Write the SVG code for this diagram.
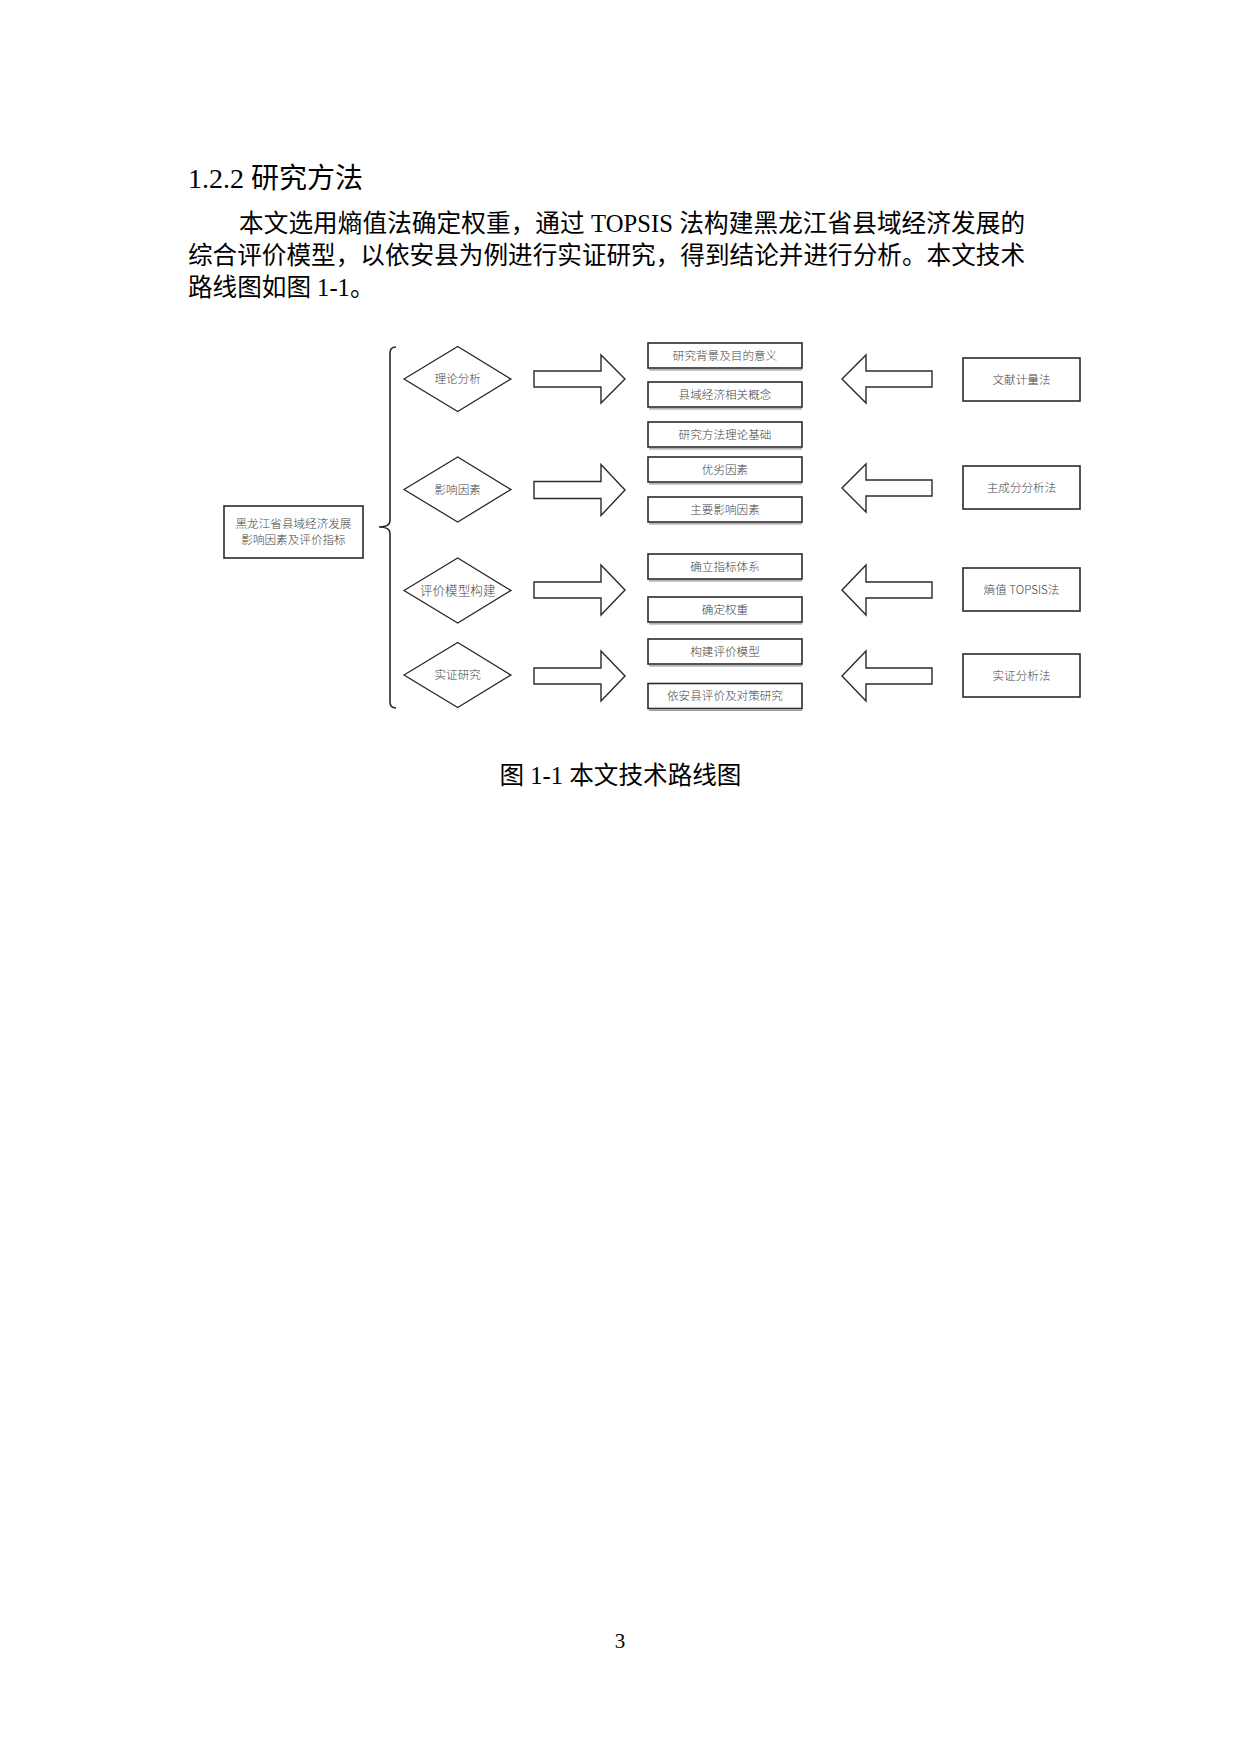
<svg xmlns="http://www.w3.org/2000/svg" width="1240" height="1754" viewBox="0 0 1240 1754">
<style>
.body{font-family:"Liberation Serif","Noto Sans CJK SC",serif;fill:#000;}
.h{font-size:28px;}
.p{font-size:24.6px;}
.d{font-family:"Noto Sans CJK SC","Noto Sans",sans-serif;font-size:11.6px;font-weight:300;fill:#444;text-anchor:middle;}
.box{fill:#fff;stroke:#2a2a2a;stroke-width:1.6;}
.sh{stroke:#9a9a9a;stroke-width:1.2;fill:none;}
.dia{fill:#fff;stroke:#2a2a2a;stroke-width:1.3;}
.arr{fill:#fff;stroke:#2a2a2a;stroke-width:1.4;stroke-linejoin:miter;}
.br{fill:none;stroke:#2a2a2a;stroke-width:1.6;}
</style>
<rect width="1240" height="1754" fill="#fff"/>
<text class="body h" x="188" y="188">1.2.2 研究方法</text>
<text class="body p" x="239" y="232" textLength="786" lengthAdjust="spacing">本文选用熵值法确定权重，通过 TOPSIS 法构建黑龙江省县域经济发展的</text>
<text class="body p" x="188" y="264" textLength="837" lengthAdjust="spacing">综合评价模型，以依安县为例进行实证研究，得到结论并进行分析。本文技术</text>
<text class="body p" x="188" y="296">路线图如图 1-1。</text>

<g id="connectors">
<path class="br" d="M396,347 Q390,347 390,353 L390,521 Q390,527 379,527 Q390,527 390,533 L390,702 Q390,708 396,708"/>
<polygon class="arr" points="534,371 601,371 601,355 625,379 601,403 601,387 534,387"/>
<polygon class="arr" points="534,481.5 601,481.5 601,464.5 625,490 601,515.5 601,498.5 534,498.5"/>
<polygon class="arr" points="534,582 601,582 601,565 625,590 601,615 601,598 534,598"/>
<polygon class="arr" points="534,668 601,668 601,651 625,676 601,701 601,684 534,684"/>
<polygon class="arr" points="932,371 866,371 866,355 842,379 866,403 866,387 932,387"/>
<polygon class="arr" points="932,480 866,480 866,464 842,488 866,512 866,496 932,496"/>
<polygon class="arr" points="932,582 866,582 866,565 842,590 866,615 866,598 932,598"/>
<polygon class="arr" points="932,668 866,668 866,651 842,676 866,701 866,684 932,684"/>
</g>

<g id="root">
<rect class="box" x="224" y="506" width="139" height="52"/>
<text class="d" x="293.5" y="527.5">黑龙江省县域经济发展</text>
<text class="d" x="293.5" y="543.5">影响因素及评价指标</text>
</g>

<g id="dia1"><polygon class="dia" points="404,379 457.7,346.5 511,379 457.7,411.5"/><text class="d" x="457.7" y="383">理论分析</text></g>
<g id="dia2"><polygon class="dia" points="404,489.5 457.7,457 511,489.5 457.7,522"/><text class="d" x="457.7" y="493.5">影响因素</text></g>
<g id="dia3"><polygon class="dia" points="404,590.5 457.7,558 511,590.5 457.7,623"/><text class="d" x="457.7" y="594.5" style="font-size:12.6px">评价模型构建</text></g>
<g id="dia4"><polygon class="dia" points="404,675 457.7,642.5 511,675 457.7,707.5"/><text class="d" x="457.7" y="679">实证研究</text></g>

<g id="m1"><line class="sh" x1="649" y1="369.8" x2="802" y2="369.8"/><rect class="box" x="648" y="343" width="154" height="25"/><text class="d" x="725" y="359.5">研究背景及目的意义</text></g>
<g id="m2"><line class="sh" x1="649" y1="408.8" x2="802" y2="408.8"/><rect class="box" x="648" y="382" width="154" height="25"/><text class="d" x="725" y="398.5">县域经济相关概念</text></g>
<g id="m3"><line class="sh" x1="649" y1="448.8" x2="802" y2="448.8"/><rect class="box" x="648" y="422" width="154" height="25"/><text class="d" x="725" y="438.5">研究方法理论基础</text></g>
<g id="m4"><line class="sh" x1="649" y1="483.8" x2="802" y2="483.8"/><rect class="box" x="648" y="457" width="154" height="25"/><text class="d" x="725" y="473.5">优劣因素</text></g>
<g id="m5"><line class="sh" x1="649" y1="523.8" x2="802" y2="523.8"/><rect class="box" x="648" y="497" width="154" height="25"/><text class="d" x="725" y="513.5">主要影响因素</text></g>
<g id="m6"><line class="sh" x1="649" y1="580.8" x2="802" y2="580.8"/><rect class="box" x="648" y="554" width="154" height="25"/><text class="d" x="725" y="570.5">确立指标体系</text></g>
<g id="m7"><line class="sh" x1="649" y1="623.8" x2="802" y2="623.8"/><rect class="box" x="648" y="597" width="154" height="25"/><text class="d" x="725" y="613.5">确定权重</text></g>
<g id="m8"><line class="sh" x1="649" y1="665.8" x2="802" y2="665.8"/><rect class="box" x="648" y="639" width="154" height="25"/><text class="d" x="725" y="655.5">构建评价模型</text></g>
<g id="m9"><line class="sh" x1="649" y1="710.3" x2="802" y2="710.3"/><rect class="box" x="648" y="683.5" width="154" height="25"/><text class="d" x="725" y="700">依安县评价及对策研究</text></g>

<g id="r1"><rect class="box" x="963" y="358" width="117" height="43"/><text class="d" x="1021.5" y="383.5">文献计量法</text></g>
<g id="r2"><rect class="box" x="963" y="466" width="117" height="43"/><text class="d" x="1021.5" y="491.5">主成分分析法</text></g>
<g id="r3"><rect class="box" x="963" y="568" width="117" height="43"/><text class="d" x="1021.5" y="593.5">熵值 TOPSIS法</text></g>
<g id="r4"><rect class="box" x="963" y="654" width="117" height="43"/><text class="d" x="1021.5" y="679.5">实证分析法</text></g>

<text class="body p" x="620.5" y="784" text-anchor="middle">图 1-1 本文技术路线图</text>
<text class="body" x="620" y="1648" text-anchor="middle" style="font-size:21px">3</text>
</svg>
